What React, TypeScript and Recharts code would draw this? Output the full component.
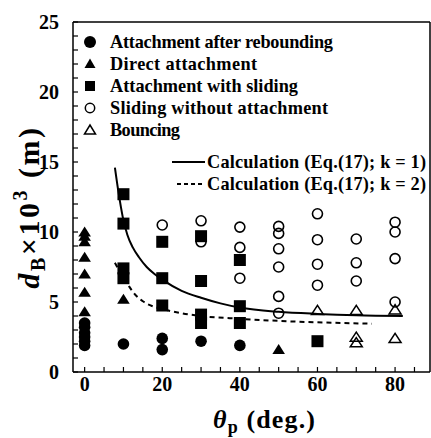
import React from 'react';
import {
  ComposedChart,
  Scatter,
  Line,
  XAxis,
  YAxis,
  ReferenceLine
} from 'recharts';

// measured points, theta_p (deg.) vs d_B x 10^3 (m)
const reboundTheta = [0, 0, 0, 0, 0, 0, 10, 20, 20, 30, 40];
const reboundD = [3.5, 3.2, 2.8, 2.5, 2.2, 1.9, 2.0, 2.4, 1.6, 2.2, 1.9];

const directTheta = [0, 0, 0, 0, 0, 0, 0, 10, 50];
const directD = [10.0, 9.7, 9.3, 8.2, 7.0, 5.7, 4.3, 5.2, 1.6];

const slidingTheta = [10, 10, 10, 10, 20, 20, 20, 30, 30, 30, 30, 40, 40, 40, 60];
const slidingD = [12.7, 10.6, 7.4, 6.7, 9.3, 6.7, 4.75, 9.7, 6.5, 4.1, 3.5, 8.0, 4.7, 3.5, 2.2];

const noAttachTheta = [20, 30, 30, 40, 40, 40, 50, 50, 50, 50, 50, 50, 60, 60, 60, 60, 70, 70, 70, 80, 80, 80, 80];
const noAttachD = [10.5, 10.8, 9.3, 10.35, 8.9, 6.7, 10.4, 9.9, 8.8, 7.5, 5.4, 4.2, 11.3, 9.45, 7.7, 6.2, 9.5, 7.8, 6.5, 10.7, 10.0, 8.1, 5.0];

const bouncingTheta = [60, 70, 70, 70, 80, 80];
const bouncingD = [4.4, 4.4, 2.5, 2.1, 4.45, 2.4];

// calculated curves
const calcK1Theta = [7.8, 8.8, 9.8, 11, 12.4, 14, 16, 18, 20, 25, 30, 35, 40, 50, 60, 70, 82];
const calcK1D = [14.6, 12.7, 11.1, 9.8, 8.9, 8.2, 7.5, 7.0, 6.6, 5.8, 5.3, 4.9, 4.6, 4.3, 4.15, 4.05, 4.0];

const calcK2Theta = [7.8, 9, 10, 11, 12.5, 15, 17.5, 20, 25, 30, 40, 50, 60, 74];
const calcK2D = [7.8, 7.2, 6.7, 6.3, 5.7, 5.05, 4.7, 4.5, 4.2, 4.0, 3.8, 3.65, 3.55, 3.45];

const xTicks = [0, 5, 10, 15, 20, 25, 30, 35, 40, 45, 50, 55, 60, 65, 70, 75, 80, 85];
const yTicks = [0, 1, 2, 3, 4, 5, 6, 7, 8, 9, 10, 11, 12, 13, 14, 15, 16, 17, 18, 19, 20, 21, 22, 23, 24, 25];

const toPts = (xs: number[], ys: number[]) => xs.map((x, i) => ({ x, y: ys[i] }));

const FONT = "'Liberation Serif', Tinos, 'Noto Serif', 'DejaVu Serif Condensed', 'DejaVu Serif', serif";

const FilledCircle = (p: any) => <circle cx={p.cx} cy={p.cy} r={5.8} fill="#000" />;
const OpenCircle = (p: any) => (
  <circle cx={p.cx} cy={p.cy} r={5} fill="#fff" fillOpacity={0} stroke="#000" strokeWidth={1.6} />
);
const FilledSquare = (p: any) => <rect x={p.cx - 6} y={p.cy - 6} width={12} height={12} fill="#000" />;
const FilledTriangle = (p: any) => (
  <polygon points={`${p.cx - 6.3},${p.cy + 4.5} ${p.cx + 6.3},${p.cy + 4.5} ${p.cx},${p.cy - 5.5}`} fill="#000" />
);
const OpenTriangle = (p: any) => (
  <polygon
    points={`${p.cx - 6},${p.cy + 4.2} ${p.cx + 6},${p.cy + 4.2} ${p.cx},${p.cy - 5}`}
    fill="none"
    stroke="#000"
    strokeWidth={1.5}
    strokeLinejoin="miter"
  />
);

const tickStyle = { fontSize: 20, fontWeight: 700, fill: '#000', fontFamily: FONT };

const Overlay = () => {
  const rows = [
    { y: 42, label: 'Attachment after rebounding', w: 223, sym: <circle cx={90} cy={42} r={6} fill="#000" /> },
    { y: 64, label: 'Direct attachment', w: 147, sym: <polygon points="84.5,68 95.5,68 90,58.5" fill="#000" /> },
    { y: 86, label: 'Attachment with sliding', w: 188, sym: <rect x={85} y={81} width={10} height={10} fill="#000" /> },
    { y: 108, label: 'Sliding without attachment', w: 218, sym: <circle cx={90} cy={108} r={4.7} fill="none" stroke="#000" strokeWidth={1.5} /> },
    { y: 130, label: 'Bouncing', w: 70, sym: <polygon points="84.5,134 95.5,134 90,125" fill="none" stroke="#000" strokeWidth={1.5} /> }
  ];
  return (
    <svg
      width={431}
      height={438}
      style={{ position: 'absolute', left: 0, top: 0, pointerEvents: 'none', fontFamily: FONT, fontWeight: 700 }}
    >
      {rows.map((r) => (
        <g key={r.label}>
          {r.sym}
          <text x={110} y={r.y + 6} fontSize={18.3} textLength={r.w} fill="#000">{r.label}</text>
        </g>
      ))}
      <line x1={172} y1={162} x2={205} y2={162} stroke="#000" strokeWidth={2} />
      <text x={207} y={168} fontSize={18.3} textLength={219} fill="#000">Calculation (Eq.(17); k = 1)</text>
      <line x1={177} y1={184} x2={205} y2={184} stroke="#000" strokeWidth={2} strokeDasharray="4 3" />
      <text x={207} y={190} fontSize={18.3} textLength={219} fill="#000">Calculation (Eq.(17); k = 2)</text>

      <text transform="translate(39,207) rotate(-90)" textAnchor="middle" fontSize={30} letterSpacing={2.5} fill="#000">
        <tspan fontStyle="italic">d</tspan>
        <tspan fontSize={20} dy={6}>B</tspan>
        <tspan dy={-6}>×10</tspan>
        <tspan fontSize={20} dy={-12}>3</tspan>
        <tspan dy={12}> (m)</tspan>
      </text>

      <text x={264} y={428} textAnchor="middle" fontSize={26} textLength={102} fill="#000">
        <tspan fontStyle="italic">θ</tspan>
        <tspan fontSize={18} dy={5}>p</tspan>
        <tspan dy={-5}> (deg.)</tspan>
      </text>
    </svg>
  );
};

export default function App() {
  return (
    <div style={{ position: 'absolute', left: 0, top: 0, width: 431, height: 438, background: '#fff' }}>
      <ComposedChart width={431} height={438} margin={{ top: 22, right: 1, bottom: 36, left: 13 }}>
        <XAxis
          type="number"
          dataKey="x"
          domain={[-3, 89]}
          ticks={xTicks}
          tickFormatter={(v: number) => (v % 20 === 0 ? String(v) : '')}
          tick={tickStyle}
          tickSize={-5}
          tickMargin={10}
          height={30}
          axisLine={{ stroke: '#000', strokeWidth: 1.5 }}
          tickLine={{ stroke: '#000', strokeWidth: 1.2 }}
          allowDataOverflow
          interval={0}
        />
        <YAxis
          type="number"
          dataKey="y"
          domain={[0, 25]}
          ticks={yTicks}
          tickFormatter={(v: number) => (v % 5 === 0 ? String(v) : '')}
          tick={tickStyle}
          tickSize={-5}
          tickMargin={19}
          width={60}
          axisLine={{ stroke: '#000', strokeWidth: 1.5 }}
          tickLine={{ stroke: '#000', strokeWidth: 1.2 }}
          allowDataOverflow
          interval={0}
        />
        <ReferenceLine y={25} stroke="#000" strokeWidth={1.5} />
        <ReferenceLine x={89} stroke="#000" strokeWidth={1.5} />

        <Line
          data={toPts(calcK1Theta, calcK1D)}
          dataKey="y"
          type="monotone"
          stroke="#000"
          strokeWidth={2}
          dot={false}
          activeDot={false}
          isAnimationActive={false}
        />
        <Line
          data={toPts(calcK2Theta, calcK2D)}
          dataKey="y"
          type="monotone"
          stroke="#000"
          strokeWidth={2}
          strokeDasharray="5 4"
          dot={false}
          activeDot={false}
          isAnimationActive={false}
        />

        <Scatter data={toPts(noAttachTheta, noAttachD)} shape={OpenCircle} isAnimationActive={false} />
        <Scatter data={toPts(bouncingTheta, bouncingD)} shape={OpenTriangle} isAnimationActive={false} />
        <Scatter data={toPts(slidingTheta, slidingD)} shape={FilledSquare} isAnimationActive={false} />
        <Scatter data={toPts(directTheta, directD)} shape={FilledTriangle} isAnimationActive={false} />
        <Scatter data={toPts(reboundTheta, reboundD)} shape={FilledCircle} isAnimationActive={false} />
      </ComposedChart>
      <Overlay />
    </div>
  );
}
